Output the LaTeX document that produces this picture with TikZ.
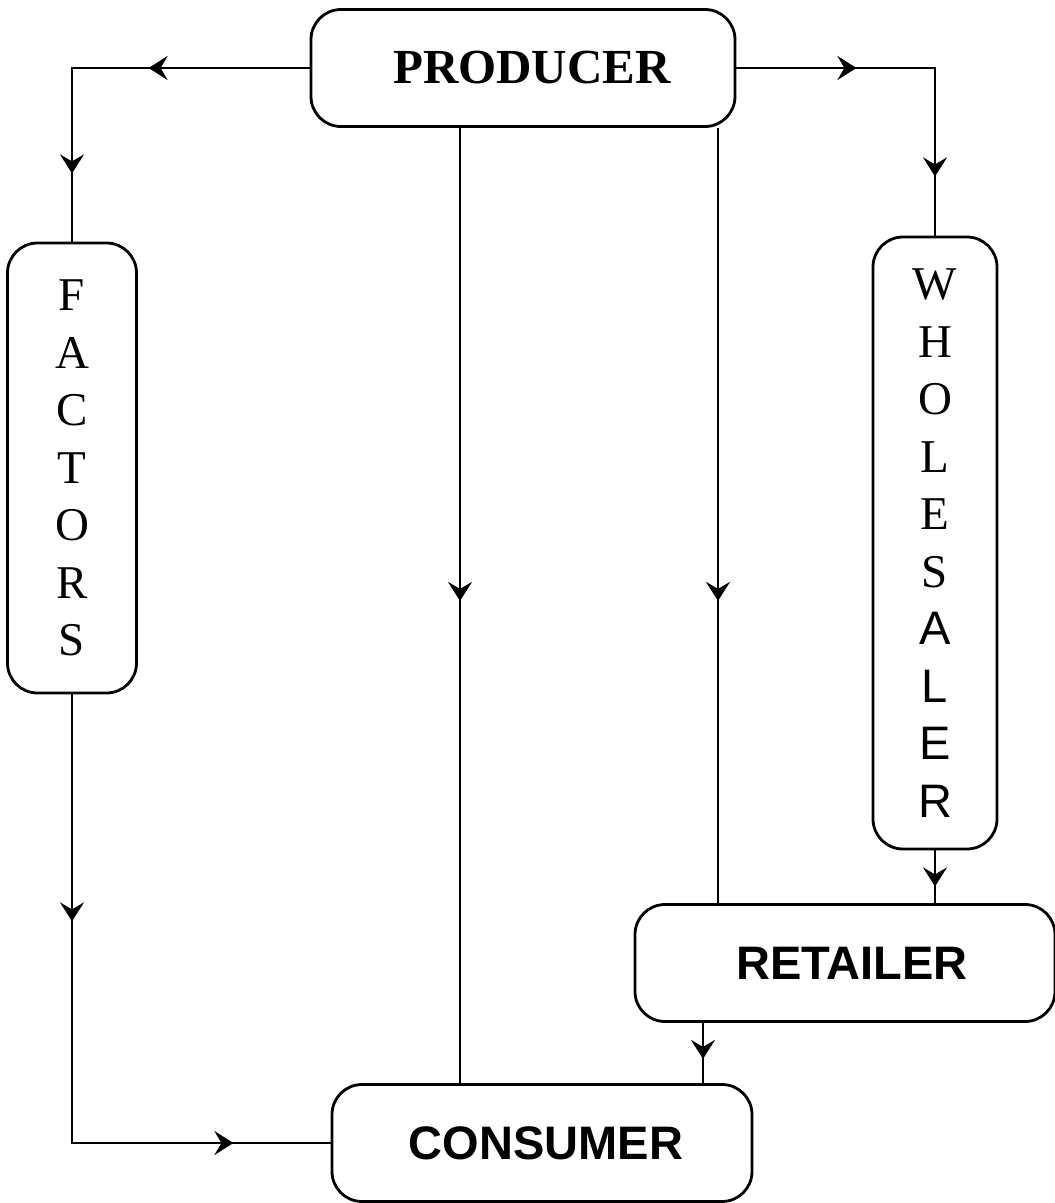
\documentclass[tikz,border=0pt]{standalone}
\usepackage{fontspec}
\setmainfont{Liberation Serif}
\newfontfamily\arialfont{Liberation Sans}
\usepackage{tikz}
\usetikzlibrary{shapes,arrows.meta,decorations.markings}
\tikzset{
	chbox/.style    = {draw, line width=2.8pt, rectangle, rounded corners=30pt,
		inner sep=0pt},
	widebox/.style  = {chbox, minimum width=420pt, minimum height=117pt},
	tallbox/.style  = {chbox, align=center, font=\fontsize{47}{57.5}\selectfont},
	flow/.style     = {line width=2.5pt},
	arrowat/.style  = {postaction={decorate,decoration={markings,
		mark=at position #1 with {\arrow{Stealth[length=19pt,width=24pt,inset=7pt]}}}}}
}
\newcommand{\boldserif}{\fontsize{49}{50}\selectfont\bfseries}
\newcommand{\boldsans}{\fontsize{47}{50}\selectfont\arialfont\bfseries}

\begin{document}
\begin{tikzpicture}[x=1pt, y=-1pt]
	\useasboundingbox (0,0) rectangle (1055,1203);
	
	\draw
	node at (523,68) [widebox, minimum width=424pt] (prod) {\hspace*{18pt}\boldserif PRODUCER}
	node at (72,468) [tallbox, minimum width=129pt, minimum height=450pt] (fac)
		{F\\A\\C\\T\\O\\R\\S}
	node at (935,543) [tallbox, minimum width=124pt, minimum height=612pt] (who)
		{W\\H\\O\\L\\E\\S\\{\arialfont A}\\{\arialfont L}\\{\arialfont E}\\{\arialfont R}}
	node at (845,963) [widebox] (ret) {\hspace*{14pt}\boldsans RETAILER}
	node at (542,1143) [widebox] (cons) {\hspace*{8pt}\boldsans CONSUMER};
	
	\draw[flow, arrowat=161pt, arrowat=343pt](prod.west) -| (fac.north);
	\draw[flow, arrowat=120pt, arrowat=307pt](prod.east) -| (who.north);
	\draw[flow, arrowat=227pt, arrowat=610pt](fac.south) |- (cons.west);
	\draw[flow, arrowat=473pt]([xshift=-63pt]prod.south) -- ([xshift=-63pt]prod.south |- cons.north);
	\draw[flow, arrowat=473pt]([xshift=195pt]prod.south) -- ([xshift=195pt]prod.south |- ret.north);
	\draw[flow, arrowat=36pt](who.south) -- (who.south |- ret.north);
	\draw[flow, arrowat=36pt]([xshift=-142pt]ret.south) -- ([xshift=-142pt]ret.south |- cons.north);
	
\end{tikzpicture}
\end{document}
